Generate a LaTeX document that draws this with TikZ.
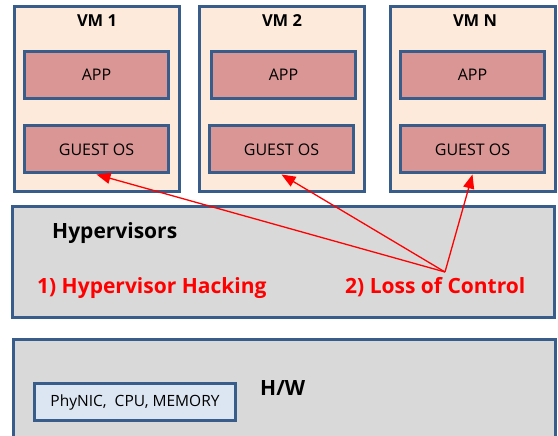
\documentclass[tikz,border=0pt]{standalone}
\usepackage{fontspec}
\setmainfont{Open Sans}
\usetikzlibrary{arrows.meta}

\definecolor{boxline}{HTML}{385D8A}
\definecolor{vmfill}{HTML}{FDEADA}
\definecolor{appfill}{HTML}{D99694}
\definecolor{layerfill}{HTML}{D9D9D9}
\definecolor{devfill}{HTML}{DCE6F2}

\begin{document}
\begin{tikzpicture}[x=1pt,y=-1pt]

\tikzstyle{vmbox}=[rectangle, draw=boxline, line width=3pt, fill=vmfill, minimum width=165pt, minimum height=185pt]
\tikzstyle{appbox}=[rectangle, draw=boxline, line width=3pt, fill=appfill, minimum width=144pt, minimum height=47pt, font=\fontsize{16}{18}\selectfont]
\tikzstyle{layer}=[rectangle, draw=boxline, line width=3pt, fill=layerfill, minimum width=542pt]
\tikzstyle{title}=[inner sep=0pt, font=\fontsize{16.5}{18}\selectfont\bfseries]
\tikzstyle{big}=[inner sep=0pt, font=\fontsize{21}{24}\selectfont\bfseries]
\tikzstyle{arrow}=[-{Triangle[length=14pt,width=11pt]}, red, line width=1.3pt]

\clip (0,0) rectangle (558,436);
\fill [white] (0,0) rectangle (558,436);

% virtual machines
\node (V1) [vmbox] at (96.5,99)  {};
\node (V2) [vmbox] at (282,99)   {};
\node (VN) [vmbox] at (473,99)   {};

\node (T1) [title] at (97,21)  {VM 1};
\node (T2) [title] at (282,21) {VM 2};
\node (TN) [title] at (475,21) {VM N};

\node (A1) [appbox] at (96.5,75)  {APP};
\node (A2) [appbox] at (283.5,75) {APP};
\node (AN) [appbox] at (472.5,75) {APP};

\node (G1) [appbox] at (96.5,149.5)  {GUEST OS};
\node (G2) [appbox] at (281.5,149.5) {GUEST OS};
\node (GN) [appbox] at (472.5,149.5) {GUEST OS};

% hypervisor layer
\node (HV) [layer, minimum height=111pt] at (283.5,262) {};
\node (HVT) [big, anchor=west] at (52,233) {Hypervisors};
\node (HACK) [big, red, anchor=west] at (37,288) {1) Hypervisor Hacking};
\node (LOSS) [big, red, anchor=west] at (345,287) {2) Loss of Control};

% hardware layer
\node (HW) [layer, minimum height=120pt] at (284.5,399.5) {};
\node (HWT) [big, anchor=west] at (260,388) {H/W};
\node (PHY) [rectangle, draw=boxline, line width=2.5pt, fill=devfill, minimum width=201pt, minimum height=37pt, font=\fontsize{15.5}{18}\selectfont] at (135,402) {PhyNIC,\ \ CPU, MEMORY};

\coordinate (P) at (445,272);
\draw [arrow] (P) -- (G1.south);
\draw [arrow] (P) -- (G2.south);
\draw [arrow] (P) -- (GN.south);

\end{tikzpicture}
\end{document}
